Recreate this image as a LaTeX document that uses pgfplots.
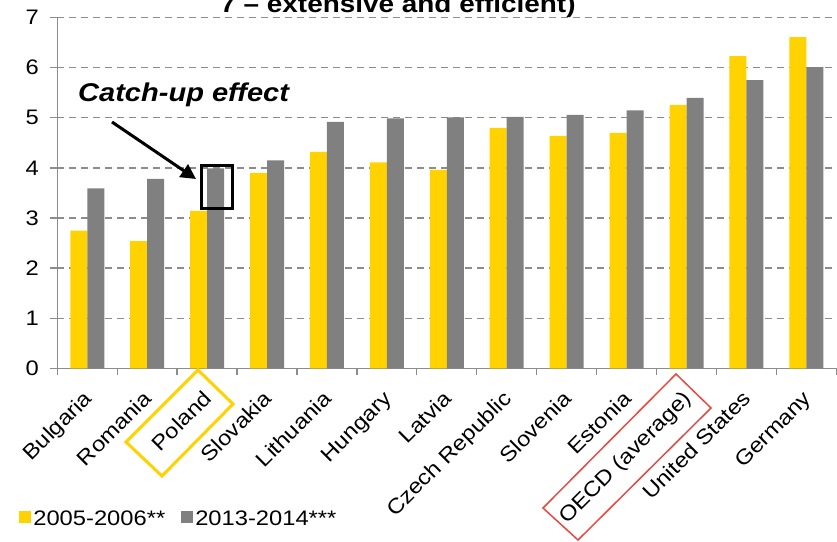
\documentclass[border=0pt]{standalone}
\usepackage{pgfplots}
\pgfplotsset{compat=1.18}
\usetikzlibrary{arrows.meta}
\usepackage{fontspec}
\setmainfont{Liberation Sans}[FakeStretch=1.13]

\definecolor{barYellow}{HTML}{FFD200}
\definecolor{barGray}{HTML}{808080}
\definecolor{axisGray}{HTML}{8C8C8C}
\definecolor{boxRed}{HTML}{E8483F}

\newcommand{\lblfont}{\fontsize{21}{25}\selectfont}

\begin{document}
\begin{tikzpicture}[x=1pt,y=1pt]
\useasboundingbox (0,0) rectangle (837,-541);

\begin{axis}[
  at={(57.3pt,-368.3pt)}, anchor=south west,
  scale only axis, width=779pt, height=350.7pt,
  xmin=-0.5, xmax=12.5, ymin=0, ymax=7,
  ybar=0pt, bar width=17pt,
  axis lines=left,
  axis line style={-, draw=axisGray, line width=1.3pt},
  every outer x axis line/.append style={-},
  every outer y axis line/.append style={-},
  tick align=outside,
  major tick length=7pt,
  tick style={draw=axisGray, line width=1.3pt},
  ytick={0,...,7},
  yticklabel style={font=\lblfont, xshift=-8pt},
  /pgf/number format/assume math mode=true,
  xtick={-0.5,0.5,...,12.5},
  xticklabels={},
  extra x ticks={0,...,12},
  extra x tick labels={Bulgaria,Romania,Poland,Slovakia,Lithuania,Hungary,Latvia,Czech Republic,Slovenia,Estonia,OECD (average),United States,Germany},
  extra x tick style={major tick length=0pt, grid=none,
    tick label style={font=\lblfont, inner sep=0pt, anchor=base east,
      xshift=6pt, yshift=-31.5pt, rotate=45}},
  ymajorgrids,
  major grid style={draw=axisGray, line width=1.3pt, dash pattern=on 7pt off 5pt},
  clip=false,
  legend style={draw=none, fill=none, inner sep=0pt, legend columns=2,
    at={(-0.049,-0.43)}, anchor=west, font=\lblfont,
    /tikz/every even column/.append style={column sep=14pt}},
  legend image code/.code={\fill[#1] (0pt,-4pt) rectangle (12pt,8pt);},
]
\addplot[fill=barYellow, draw=none] coordinates {
  (0,2.75) (1,2.54) (2,3.14) (3,3.90) (4,4.32) (5,4.11) (6,3.96)
  (7,4.80) (8,4.64) (9,4.70) (10,5.26) (11,6.23) (12,6.61)};
\addplot[fill=barGray, draw=none] coordinates {
  (0,3.59) (1,3.78) (2,3.99) (3,4.15) (4,4.92) (5,4.99) (6,5.01)
  (7,5.02) (8,5.06) (9,5.15) (10,5.40) (11,5.75) (12,6.01)};
\legend{2005-2006**,2013-2014***}
\end{axis}

% heading (its upper line lies above the page)
\node[anchor=base, inner sep=0pt, font=\bfseries\fontsize{24.7}{28}\selectfont] at (398,-12) {7 – extensive and efficient)};

% catch-up annotation
\node[anchor=base west, inner sep=0pt, font=\bfseries\itshape\fontsize{25.7}{30}\selectfont] at (78,-101.5) {Catch-up effect};
\draw[line width=3pt, -{Triangle[length=15pt, width=15pt]}] (112,-122) -- (196,-179);
\draw[line width=3pt] (201,-165) rectangle (232,-208);

% highlighted category labels
\draw[barYellow, line width=3pt] (198,-370) -- (233,-404) -- (162,-476) -- (126,-442) -- cycle;
\draw[boxRed, line width=1.5pt] (676,-374) -- (711,-408) -- (578,-540) -- (543,-508) -- cycle;
\end{tikzpicture}
\end{document}
